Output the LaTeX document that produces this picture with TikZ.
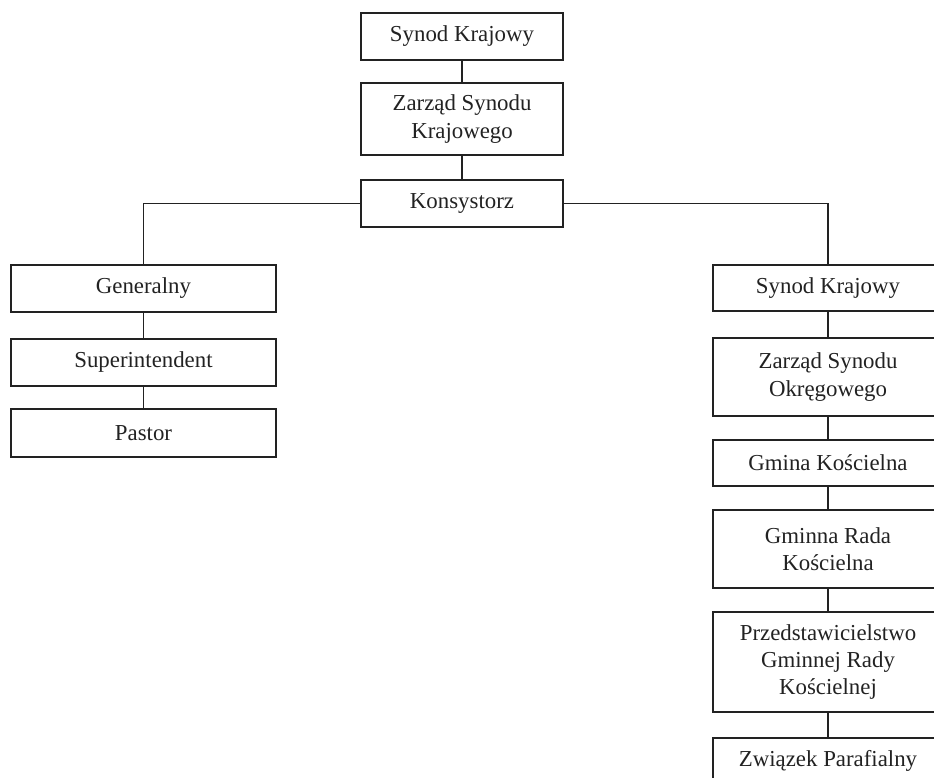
\documentclass[tikz,border=0pt]{standalone}
\usepackage{fontspec}
\setmainfont{Liberation Serif}
\usepackage{tikz}
\usetikzlibrary{calc}
\definecolor{ink}{HTML}{222222}
\tikzset{
  box/.style={draw=ink, line width=0.75pt, align=center, inner sep=2pt, text=ink,
    font=\fontsize{13}{15.5}\selectfont},
  boxtop/.style={box, minimum width=4.04cm},
  boxleft/.style={box, minimum width=5.3cm},
  boxright/.style={box, minimum width=4.6cm},
  link/.style={draw=ink, line width=0.75pt},
}
\begin{document}
\begin{tikzpicture}[x=0.02cm, y=-0.02cm]
  \clip (0,0) rectangle (934,778);
  % top column
  \node[boxtop, minimum height=0.94cm] (synod) at (462,36.5) {Synod Krajowy};
  \node[boxtop, minimum height=1.44cm] (zarzad) at (462,119) {Zarząd Synodu\\Krajowego};
  \node[boxtop, minimum height=0.94cm] (kons) at (462,203.5) {Konsystorz};
  % left column
  \node[boxleft, minimum height=0.94cm] (gen) at (143.5,288.5) {Generalny};
  \node[boxleft, minimum height=0.94cm] (sup) at (143.5,362.5) {Superintendent};
  \node[boxleft, minimum height=0.96cm] (pastor) at (143.5,433) {Pastor};
  % right column
  \node[boxright, minimum height=0.92cm] (synodB) at (828,288) {Synod Krajowy};
  \node[boxright, minimum height=1.56cm] (zarzadB) at (828,377) {Zarząd Synodu\\Okręgowego};
  \node[boxright, minimum height=0.92cm] (gmina) at (828,463) {Gmina Kościelna};
  \node[boxright, minimum height=1.56cm] (rada) at (828,549) {Gminna Rada\\Kościelna};
  \node[boxright, minimum height=2.0cm] (przed) at (828,662) {Przedstawicielstwo\\Gminnej Rady\\Kościelnej};
  \node[boxright, minimum height=0.92cm] (zwiazek) at (828,761) {Związek Parafialny};

  \draw[link] (synod) -- (zarzad) -- (kons);
  \draw[link] (kons.west) -| (gen.north);
  \draw[link] (kons.east) -| (synodB.north);
  \draw[link] (gen) -- (sup) -- (pastor);
  \draw[link] (synodB) -- (zarzadB) -- (gmina) -- (rada) -- (przed) -- (zwiazek);
\end{tikzpicture}
\end{document}
